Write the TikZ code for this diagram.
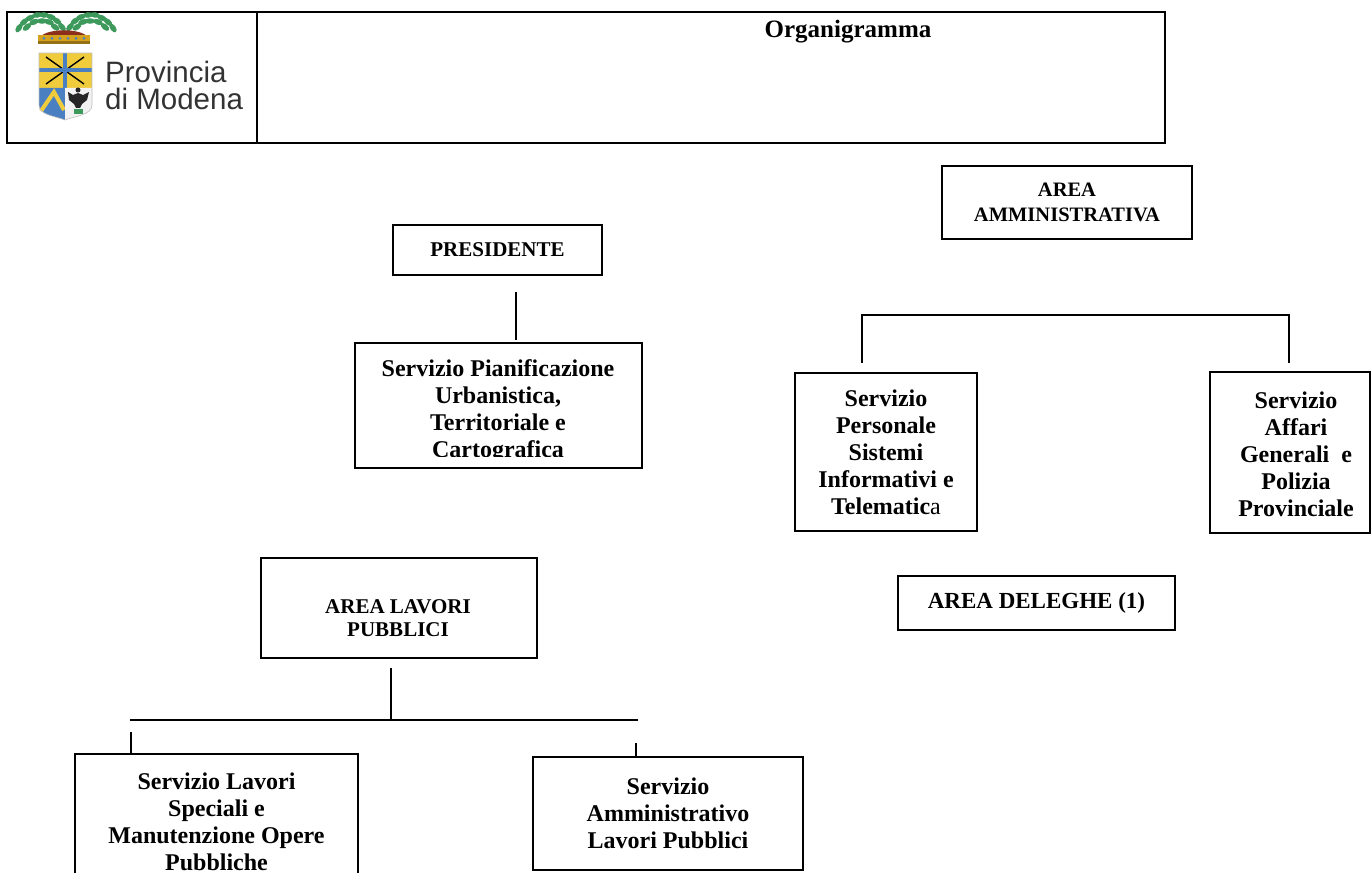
\documentclass[tikz,border=0pt]{standalone}
\usepackage{fontspec}
\setmainfont{Liberation Serif}
\newfontfamily\logofont{Liberation Sans}
\usetikzlibrary{positioning}
\definecolor{shieldyellow}{HTML}{F0CC3C}
\definecolor{shieldblue}{HTML}{4A80C2}
\definecolor{leafgreen}{HTML}{3E9A5C}
\definecolor{crowngold}{HTML}{D4A21E}
\definecolor{crownred}{HTML}{8B2E1C}
\newcommand{\svcfont}{\fontsize{24}{27}\selectfont\bfseries}
\newcommand{\areafont}[2]{\fontsize{#1}{#2}\selectfont\bfseries}

\begin{document}
\begin{tikzpicture}
    [
    x=1pt, y=-1pt,
    svc/.style = {draw,line width=1.2pt,inner sep=0pt,align=center,font=\svcfont},
    area/.style = {draw,line width=2.8pt,inner sep=0pt,align=center},
    link/.style = {line width=1.3pt}
    ]
\useasboundingbox[fill=white] (0,0) rectangle (1372,872);

% header
\node[draw,line width=1.8pt,inner sep=0pt,minimum width=1158pt,minimum height=131pt] (head) at (586,77.5) {};
\draw[line width=1.8pt] (257,12) -- (257,143);
\node[anchor=base,font=\fontsize{25}{30}\selectfont\bfseries] (title) at (848,38) {Organigramma};

% logo
\foreach \x/\y/\r in {19/28/55,24/22/40,30/18/25,37/15/10,44/15/-5,51/17/-20,57/21/-35,62/27/-50,
                      27/27/40,34/22/20,42/21/0,49/22/-15,55/27/-35}
{
    \fill[leafgreen,rotate around={\r:(\x,\y)}] (\x,\y) ellipse (5 and 2.8);
    \fill[leafgreen,rotate around={-\r:(132-\x,\y)}] (132-\x,\y) ellipse (5 and 2.8);
}
\fill[crownred] (40,37) .. controls (48,28) and (80,28) .. (88,37) -- cycle;
\fill[crowngold] (38,35) rectangle (90,44);
\foreach \x in {44,52,60,68,76,84}
    \fill[shieldblue] (\x,38.5) circle (1.5);
\fill[crowngold!70!black] (38,41.5) rectangle (90,44);
\fill[shieldyellow] (39,53) rectangle (92,88);
\draw[black,line width=1.4pt] (46,57) -- (84,84) (84,57) -- (46,84);
\fill[shieldblue] (63,53) rectangle (67,88);
\fill[shieldblue] (39,68) rectangle (92,72);
\fill[shieldblue] (39,88) -- (65,88) -- (65,120) .. controls (55,116) and (39,115) .. (39,105) -- cycle;
\draw[shieldyellow,line width=4pt] (41,111) -- (54,92) -- (64,110);
\fill[black!5] (65,88) -- (92,88) -- (92,105) .. controls (92,115) and (75,116) .. (65,120) -- cycle;
\fill[black!85] (78,90) circle (2.5);
\fill[black!85] (68,92) -- (73,95) -- (78,93) -- (83,95) -- (89,92) -- (87,100) -- (82,104)
    -- (80,108) -- (76,108) -- (74,104) -- (69,100) -- cycle;
\fill[leafgreen] (74,109) rectangle (83,114);
\draw[black!25,line width=0.6pt] (39,53) -- (92,53) -- (92,105) .. controls (92,115) and (75,116) .. (65,120)
    .. controls (55,116) and (39,115) .. (39,105) -- cycle;
\node[anchor=base west,inner sep=0pt,text=black!80,font=\logofont\fontsize{29.5}{27}\selectfont] (prov) at (105,83) {Provincia};
\node[anchor=base west,inner sep=0pt,text=black!80,font=\logofont\fontsize{29.5}{27}\selectfont] (mod) at (105,110) {di Modena};

% presidente
\node[area,minimum width=209pt,minimum height=50pt,font=\areafont{21}{24}] (pres) at (497.5,250) {PRESIDENTE};
\node[svc,minimum width=287pt,minimum height=125pt] (pian) at (498.5,405.5) {};
\begin{scope}
\clip (356,344) rectangle (641,456);
\node[align=center,font=\svcfont,inner sep=0pt] (piantxt) at (498,411) {Servizio Pianificazione\\Urbanistica,\\Territoriale e\\Cartografica};
\end{scope}
\coordinate (pres-a) at (516,292);
\coordinate (pian-a) at (516,340);
\draw[link] (pres-a) -- (pian-a);

% area amministrativa
\node[area,minimum width=250pt,minimum height=73pt,font=\areafont{20.5}{25}] (amm) at (1067,202.5) {AREA\\AMMINISTRATIVA};
\node[svc,minimum width=182pt,minimum height=158pt] (pers) at (886,452) {Servizio\\Personale\\Sistemi\\Informativi e\\Telematic\textmd{a}};
\node[svc,minimum width=160pt,minimum height=161pt] (aff) at (1290,452.5) {};
\node[align=center,font=\svcfont,inner sep=0pt] (afftxt) at (1296,454) {Servizio\\Affari\\Generali \ e\\Polizia\\Provinciale};
\coordinate (pers-a) at (862,363);
\coordinate (aff-a) at (1289,363);
\draw[link] (pers-a) -- (862,315) -- (1289,315) -- (aff-a);
\node[area,minimum width=277pt,minimum height=54pt,font=\areafont{23}{27}] (deleghe) at (1036.5,603) {AREA DELEGHE (1)};

% area lavori pubblici
\node[area,minimum width=276pt,minimum height=100pt] (lav) at (399,608) {};
\node[align=center,inner sep=0pt,font=\areafont{21}{23}] (lavtxt) at (398,618) {AREA LAVORI\\PUBBLICI};
\coordinate (lav-a) at (391,668);
\coordinate (lav-b) at (391,719);
\draw[link] (lav-a) -- (lav-b);
\draw[link] (130,720) -- (638,720);
\node[svc,minimum width=283pt,minimum height=136pt] (spec) at (216.5,822) {Servizio Lavori\\Speciali e\\Manutenzione Opere\\Pubbliche};
\node[svc,minimum width=270pt,minimum height=113pt] (ammlav) at (668,813.5) {Servizio\\Amministrativo\\Lavori Pubblici};
\coordinate (spec-a) at (131,732);
\coordinate (ammlav-a) at (636,743);
\draw[link] (spec-a) -- (spec-a |- spec.north);
\draw[link] (ammlav-a) -- (ammlav-a |- ammlav.north);
\end{tikzpicture}
\end{document}
